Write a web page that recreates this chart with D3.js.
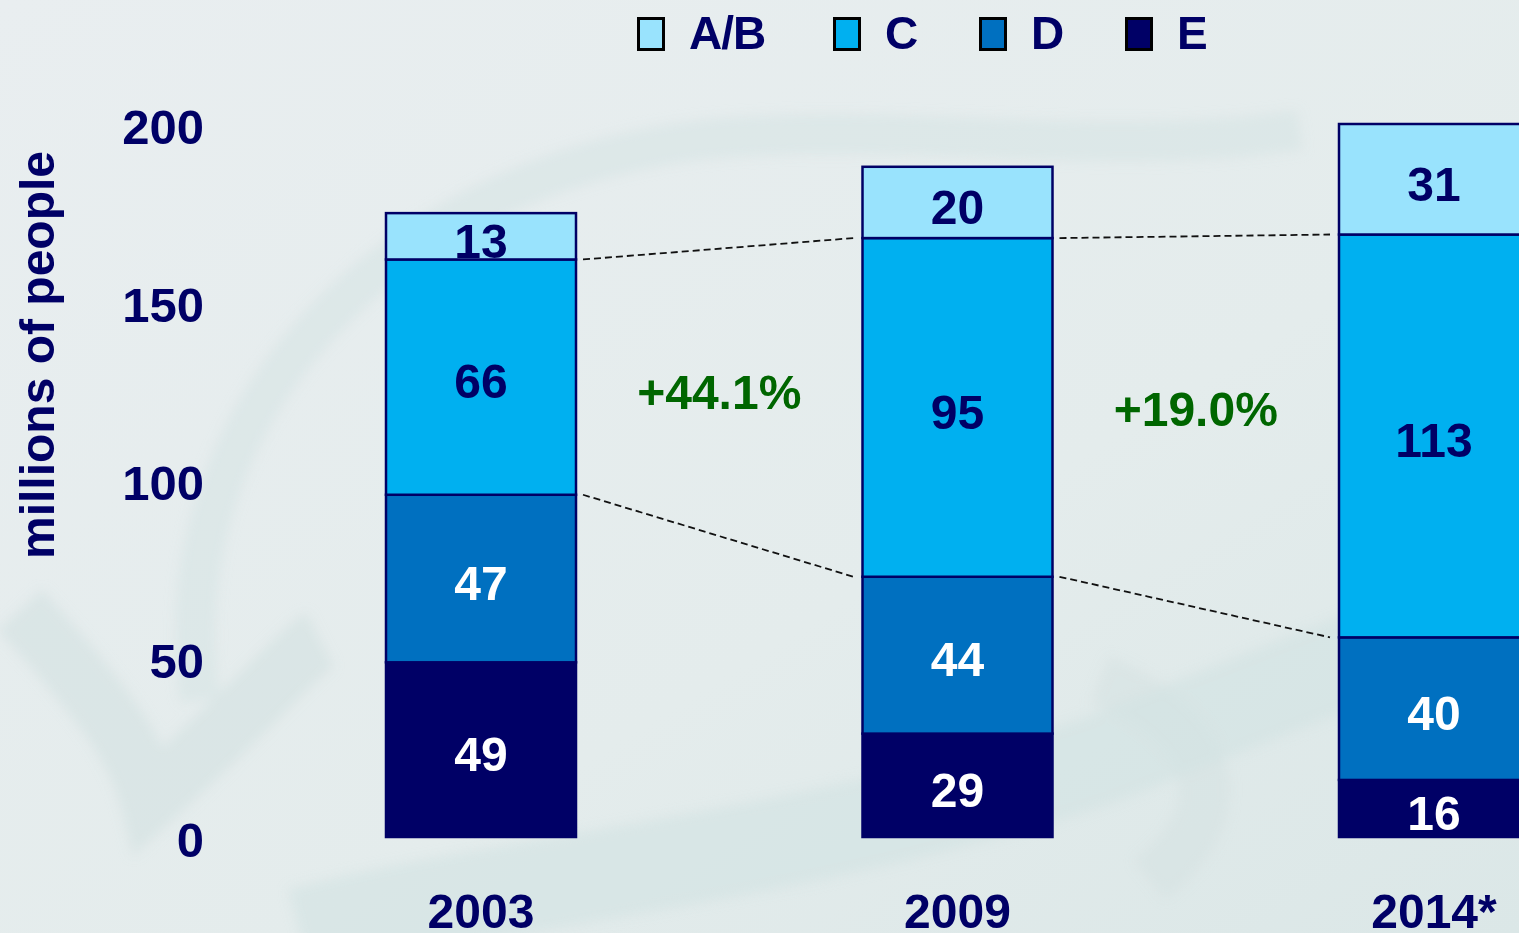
<!DOCTYPE html>
<html>
<head>
<meta charset="utf-8">
<script src="https://cdn.jsdelivr.net/npm/d3@7"></script>
<style>
  html, body { margin: 0; padding: 0; overflow: hidden; }
  body { width: 1519px; height: 933px; }
  text { font-family: "Liberation Sans", Arial, sans-serif; font-weight: bold; }
</style>
</head>
<body>
<svg id="chart"></svg>
<script>
const years = ['2003', '2009', '2014*'];
const classes = ['E', 'D', 'C', 'A/B'];          // stacked bottom to top
const classE = [49, 29, 16];
const classD = [47, 44, 40];
const classC = [66, 95, 113];
const classAB = [13, 20, 31];
const legendOrder = ['A/B', 'C', 'D', 'E'];
const yTicks = [0, 50, 100, 150, 200];
const growthLabels = ['+44.1%', '+19.0%'];

const width = 1519, height = 933;
const navy = '#000066';
const colors = { 'A/B': '#99e3fd', 'C': '#00b0f0', 'D': '#0070c0', 'E': '#000066' };
const labelColors = { 'A/B': navy, 'C': navy, 'D': '#ffffff', 'E': '#ffffff' };

const svg = d3.select('#chart').attr('width', width).attr('height', height);

// background: pale banknote-like wash
const defs = svg.append('defs');
const grad = defs.append('linearGradient').attr('id', 'bg')
    .attr('x1', 0).attr('y1', 0).attr('x2', 1).attr('y2', 1);
grad.append('stop').attr('offset', '0%').attr('stop-color', '#e9eef0');
grad.append('stop').attr('offset', '60%').attr('stop-color', '#e4ecec');
grad.append('stop').attr('offset', '100%').attr('stop-color', '#dbe7e7');
defs.append('filter').attr('id', 'blur').append('feGaussianBlur').attr('stdDeviation', 6);

svg.append('rect').attr('width', width).attr('height', height).attr('fill', 'url(#bg)');

const deco = svg.append('g').attr('filter', 'url(#blur)').attr('fill', 'none');
deco.append('path')
    .attr('d', 'M 20 610 C 120 720, 140 760, 150 800 C 260 700, 300 650, 320 640')
    .attr('stroke', '#d2e1e1').attr('stroke-width', 60).attr('opacity', 0.6);
deco.append('path')
    .attr('d', 'M 200 700 C 160 420, 380 180, 700 140 C 900 120, 1100 160, 1300 130')
    .attr('stroke', '#d6e4e4').attr('stroke-width', 40).attr('opacity', 0.55);
deco.append('path')
    .attr('d', 'M 300 933 C 500 880, 800 860, 1100 760 C 1250 700, 1400 640, 1519 600')
    .attr('stroke', '#d0e1e1').attr('stroke-width', 90).attr('opacity', 0.55);
deco.append('path')
    .attr('d', 'M 1100 680 C 1200 720, 1250 800, 1150 880')
    .attr('stroke', '#d3e2e2').attr('stroke-width', 50).attr('opacity', 0.5);

const rows = years.map((yr, i) => ({
    year: yr, 'E': classE[i], 'D': classD[i], 'C': classC[i], 'A/B': classAB[i]
}));
const series = d3.stack().keys(classes)(rows);

const x = d3.scalePoint().domain(years).range([481, 1434]);
const barW = 190;
const y = d3.scaleLinear().domain([0, 200]).range([837, 124]);

// y axis labels
svg.append('g').selectAll('text')
    .data(yTicks)
    .join('text')
    .attr('x', 204)
    .attr('y', d => y(d) + 2)
    .attr('dy', '0.36em')
    .attr('text-anchor', 'end')
    .attr('font-size', 49)
    .attr('fill', navy)
    .text(d => d);

svg.append('text')
    .attr('transform', 'translate(54,355) rotate(-90)')
    .attr('text-anchor', 'middle')
    .attr('font-size', 48)
    .attr('fill', navy)
    .text('millions of people');

// dashed connectors between tops of D and C segments
const conn = svg.append('g');
['D', 'C'].forEach(k => {
    const s = series.find(d => d.key === k);
    for (let i = 0; i < years.length - 1; i++) {
        conn.append('line')
            .attr('x1', x(years[i]) + barW / 2 + 7)
            .attr('y1', y(s[i][1]))
            .attr('x2', x(years[i + 1]) - barW / 2 - 9)
            .attr('y2', y(s[i + 1][1]))
            .attr('stroke', '#111')
            .attr('stroke-width', 1.8)
            .attr('stroke-dasharray', '7,4');
    }
});

// bars
const groups = svg.append('g').selectAll('g')
    .data(series)
    .join('g')
    .attr('fill', d => colors[d.key]);

groups.selectAll('rect')
    .data(d => d.map(v => Object.assign(v, { key: d.key })))
    .join('rect')
    .attr('x', d => x(d.data.year) - barW / 2)
    .attr('y', d => y(d[1]))
    .attr('width', barW)
    .attr('height', d => y(d[0]) - y(d[1]))
    .attr('stroke', navy)
    .attr('stroke-width', 2.5);

groups.selectAll('text')
    .data(d => d)
    .join('text')
    .attr('x', d => x(d.data.year))
    .attr('y', d => (y(d[0]) + y(d[1])) / 2 + 4)
    .attr('dy', '0.36em')
    .attr('text-anchor', 'middle')
    .attr('font-size', 48)
    .attr('fill', d => labelColors[d.key])
    .text(d => d[1] - d[0]);

// year labels
svg.append('g').selectAll('text')
    .data(years)
    .join('text')
    .attr('x', d => x(d))
    .attr('y', 928)
    .attr('text-anchor', 'middle')
    .attr('font-size', 48)
    .attr('fill', navy)
    .text(d => d);

// growth labels, placed between bars
const growthAt = [125, 120];
svg.append('g').selectAll('text')
    .data(growthLabels)
    .join('text')
    .attr('x', (d, i) => (x(years[i]) + x(years[i + 1])) / 2)
    .attr('y', (d, i) => y(growthAt[i]))
    .attr('dy', '0.36em')
    .attr('text-anchor', 'middle')
    .attr('font-size', 48)
    .attr('fill', '#006600')
    .text(d => d);

// legend
const legendX = [637, 833, 979, 1125];
const legend = svg.append('g').selectAll('g')
    .data(legendOrder)
    .join('g')
    .attr('transform', (d, i) => `translate(${legendX[i]},17)`);
legend.append('rect')
    .attr('x', 1.5).attr('y', 1.5)
    .attr('width', 25).attr('height', 31)
    .attr('fill', d => colors[d])
    .attr('stroke', '#000')
    .attr('stroke-width', 3);
legend.append('text')
    .attr('x', 52)
    .attr('y', 32)
    .attr('font-size', 46)
    .attr('letter-spacing', d => d === 'A/B' ? -1 : 0)
    .attr('fill', navy)
    .text(d => d);
</script>
</body>
</html>
